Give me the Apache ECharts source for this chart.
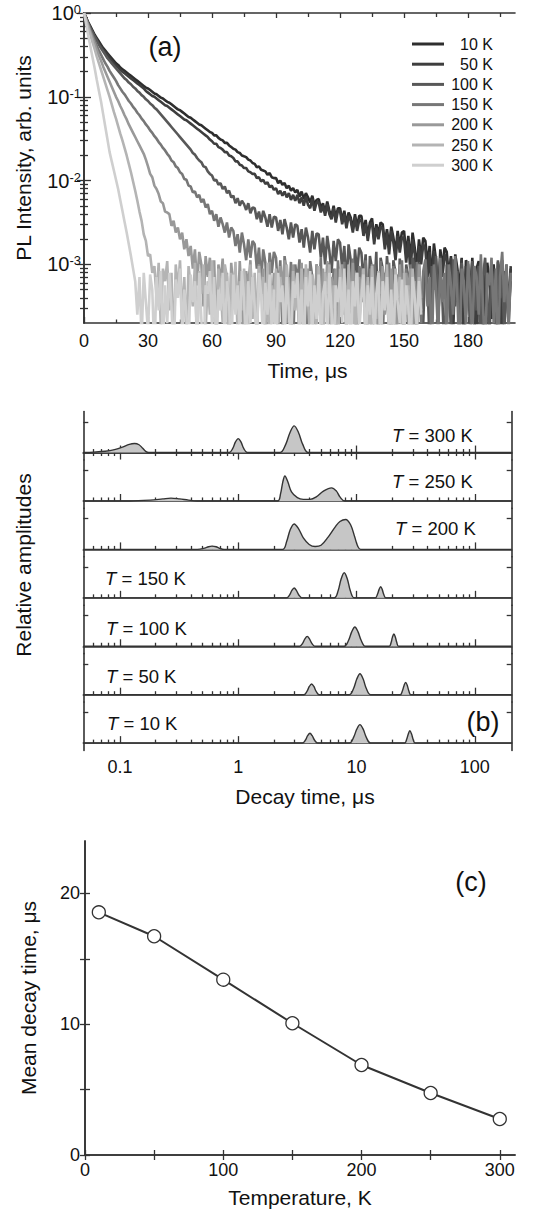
<!DOCTYPE html>
<html>
<head>
<meta charset="utf-8">
<script src="https://cdn.jsdelivr.net/npm/echarts@6/dist/echarts.min.js"></script>
<style>
  html, body { margin: 0; padding: 0; background: #fff; }
  #chart { width: 533px; height: 1220px; }
</style>
</head>
<body>
<div id="chart"></div>
<script>
// ---- (a) PL decay: log10 of intensity, one sample per 1 us from 0 us ----
const sampleStepUs = 1;
const temperaturesA = ["10 K", "50 K", "100 K", "150 K", "200 K", "250 K", "300 K"];

const logPL10K = [
  0, -0.06, -0.11, -0.16, -0.21, -0.26, -0.30, -0.34, -0.38, -0.42,
  -0.45, -0.48, -0.51, -0.54, -0.57, -0.60, -0.62, -0.65, -0.67, -0.69,
  -0.71, -0.73, -0.75, -0.77, -0.79, -0.81, -0.83, -0.85, -0.87, -0.89,
  -0.90, -0.92, -0.94, -0.96, -0.97, -0.99, -1.01, -1.02, -1.04, -1.06,
  -1.07, -1.09, -1.11, -1.13, -1.15, -1.16, -1.18, -1.20, -1.22, -1.24,
  -1.25, -1.27, -1.29, -1.31, -1.33, -1.34, -1.36, -1.38, -1.40, -1.42,
  -1.43, -1.46, -1.46, -1.49, -1.51, -1.52, -1.55, -1.55, -1.58, -1.60,
  -1.62, -1.63, -1.66, -1.67, -1.70, -1.71, -1.72, -1.75, -1.76, -1.79,
  -1.80, -1.84, -1.83, -1.87, -1.88, -1.89, -1.93, -1.91, -1.96, -1.97,
  -1.97, -2.03, -2.00, -2.05, -2.03, -2.09, -2.06, -2.12, -2.09, -2.14,
  -2.11, -2.19, -2.13, -2.22, -2.15, -2.20, -2.26, -2.18, -2.29, -2.23,
  -2.22, -2.33, -2.27, -2.38, -2.25, -2.36, -2.42, -2.30, -2.45, -2.33,
  -2.33, -2.48, -2.36, -2.52, -2.38, -2.44, -2.58, -2.40, -2.55, -2.42,
  -2.42, -2.60, -2.47, -2.66, -2.50, -2.45, -2.70, -2.52, -2.64, -2.50,
  -2.52, -2.75, -2.58, -2.80, -2.55, -2.68, -2.86, -2.60, -2.78, -2.62,
  -2.60, -2.88, -2.66, -2.95, -2.62, -2.80, -3.05, -2.70, -2.92, -2.68,
  -2.72, -3.00, -2.78, -3.20, -2.75, -2.95, -3.40, -2.82, -3.05, -2.80,
  -2.85, -3.15, -2.90, -3.60, -2.88, -3.05, -3.30, -2.92, -3.90, -2.95,
  -3.00, -3.35, -2.92, -3.80, -3.05, -2.96, -3.50, -3.10, -4.10, -2.98,
  -3.20, -3.65, -3.00, -3.40, -4.00, -3.05, -2.95, -3.70, -3.15, -3.45,
  -3.05
];
const logPL50K = [
  0, -0.06, -0.12, -0.18, -0.23, -0.28, -0.32, -0.36, -0.40, -0.44,
  -0.47, -0.50, -0.54, -0.57, -0.60, -0.63, -0.65, -0.68, -0.70, -0.72,
  -0.74, -0.76, -0.78, -0.80, -0.82, -0.84, -0.86, -0.88, -0.90, -0.93,
  -0.95, -0.97, -0.99, -1.00, -1.02, -1.04, -1.06, -1.08, -1.10, -1.11,
  -1.13, -1.15, -1.17, -1.19, -1.21, -1.23, -1.25, -1.27, -1.28, -1.30,
  -1.32, -1.34, -1.36, -1.38, -1.40, -1.42, -1.44, -1.46, -1.48, -1.51,
  -1.53, -1.56, -1.56, -1.60, -1.61, -1.63, -1.66, -1.66, -1.70, -1.71,
  -1.73, -1.77, -1.77, -1.81, -1.82, -1.85, -1.85, -1.89, -1.90, -1.92,
  -1.92, -1.97, -1.96, -2.01, -1.99, -2.04, -2.02, -2.08, -2.06, -2.11,
  -2.09, -2.16, -2.12, -2.18, -2.13, -2.20, -2.15, -2.23, -2.17, -2.24,
  -2.17, -2.27, -2.20, -2.30, -2.19, -2.29, -2.33, -2.22, -2.36, -2.26,
  -2.26, -2.38, -2.30, -2.42, -2.28, -2.40, -2.46, -2.33, -2.50, -2.36,
  -2.36, -2.52, -2.40, -2.57, -2.42, -2.48, -2.62, -2.44, -2.60, -2.47,
  -2.47, -2.66, -2.52, -2.72, -2.54, -2.50, -2.76, -2.56, -2.70, -2.55,
  -2.57, -2.82, -2.62, -2.88, -2.60, -2.74, -2.95, -2.66, -2.86, -2.68,
  -2.68, -2.98, -2.72, -3.10, -2.70, -2.88, -3.25, -2.78, -3.00, -2.76,
  -2.82, -3.15, -2.85, -3.45, -2.84, -3.02, -3.70, -2.90, -3.15, -2.88,
  -2.95, -3.30, -2.92, -3.85, -3.00, -3.10, -3.50, -2.94, -4.00, -3.02,
  -3.10, -3.55, -2.96, -3.30, -4.10, -3.00, -3.20, -3.75, -2.98, -3.40,
  -3.90, -3.05, -3.25, -3.60, -2.97, -3.15, -4.05, -3.08, -3.35, -3.70,
  -3.02
];
const logPL100K = [
  0, -0.06, -0.12, -0.18, -0.23, -0.28, -0.33, -0.38, -0.42, -0.46,
  -0.50, -0.54, -0.57, -0.60, -0.63, -0.66, -0.69, -0.72, -0.75, -0.78,
  -0.80, -0.83, -0.85, -0.88, -0.90, -0.93, -0.95, -0.98, -1.00, -1.03,
  -1.05, -1.08, -1.10, -1.13, -1.15, -1.18, -1.21, -1.24, -1.27, -1.30,
  -1.33, -1.36, -1.39, -1.42, -1.45, -1.48, -1.51, -1.54, -1.57, -1.60,
  -1.63, -1.67, -1.69, -1.73, -1.76, -1.78, -1.83, -1.84, -1.89, -1.92,
  -1.94, -2.00, -1.99, -2.05, -2.03, -2.10, -2.07, -2.15, -2.12, -2.20,
  -2.18, -2.27, -2.21, -2.30, -2.24, -2.28, -2.35, -2.27, -2.39, -2.32,
  -2.33, -2.46, -2.37, -2.50, -2.36, -2.44, -2.55, -2.40, -2.56, -2.43,
  -2.44, -2.60, -2.47, -2.64, -2.46, -2.56, -2.70, -2.50, -2.68, -2.52,
  -2.54, -2.74, -2.58, -2.80, -2.56, -2.68, -2.86, -2.60, -2.82, -2.63,
  -2.64, -2.92, -2.68, -3.00, -2.66, -2.84, -3.10, -2.72, -2.96, -2.70,
  -2.74, -3.05, -2.78, -3.25, -2.76, -2.95, -3.50, -2.82, -3.10, -2.80,
  -2.86, -3.20, -2.88, -3.70, -2.90, -3.05, -3.35, -2.85, -4.00, -2.92,
  -3.05, -3.45, -2.90, -3.25, -3.90, -2.95, -3.10, -3.60, -2.93, -3.30,
  -4.10, -3.00, -3.15, -3.55, -2.92, -3.05, -3.85, -2.98, -3.40, -3.70,
  -2.95, -3.20, -4.00, -3.02, -3.30, -2.90, -3.65, -3.10, -3.45, -4.15,
  -3.00, -3.25, -3.80, -2.94, -3.50, -3.08, -4.05, -2.98, -3.35, -3.60,
  -3.05, -3.90, -2.96, -3.20, -3.55, -3.02, -4.10, -3.15, -2.92, -3.45,
  -3.75, -3.05, -3.30, -4.00, -2.95, -3.40, -3.10, -3.85, -3.00, -3.60,
  -3.20
];
const logPL150K = [
  0, -0.07, -0.14, -0.21, -0.27, -0.33, -0.39, -0.45, -0.50, -0.55,
  -0.60, -0.64, -0.69, -0.73, -0.77, -0.81, -0.86, -0.90, -0.94, -0.97,
  -1.01, -1.05, -1.08, -1.12, -1.15, -1.19, -1.22, -1.26, -1.29, -1.33,
  -1.36, -1.40, -1.43, -1.47, -1.50, -1.54, -1.57, -1.61, -1.64, -1.68,
  -1.71, -1.76, -1.78, -1.83, -1.85, -1.90, -1.92, -1.98, -1.99, -2.06,
  -2.07, -2.14, -2.13, -2.20, -2.17, -2.26, -2.22, -2.32, -2.28, -2.40,
  -2.36, -2.48, -2.40, -2.55, -2.44, -2.52, -2.62, -2.50, -2.68, -2.56,
  -2.60, -2.78, -2.64, -2.86, -2.62, -2.76, -2.95, -2.70, -2.92, -2.72,
  -2.76, -3.05, -2.80, -3.20, -2.82, -2.98, -3.45, -2.86, -3.10, -2.85,
  -2.92, -3.35, -2.95, -3.80, -2.90, -3.10, -3.55, -2.97, -4.05, -3.00,
  -3.20, -2.94, -3.60, -3.05, -3.30, -4.10, -2.96, -3.15, -3.70, -3.00,
  -3.40, -2.92, -3.95, -3.10, -3.25, -2.98, -3.65, -3.05, -4.15, -2.95,
  -3.30, -3.50, -2.97, -3.85, -3.08, -3.20, -2.93, -3.60, -4.00, -3.02,
  -3.15, -3.45, -2.95, -3.75, -3.05, -4.10, -3.00, -3.30, -3.55, -2.96,
  -3.90, -3.10, -3.25, -2.98, -3.65, -3.02, -4.20, -3.12, -3.40, -2.95,
  -3.55, -3.05, -3.80, -3.00, -3.35, -4.05, -2.97, -3.20, -3.70, -3.08,
  -2.94, -3.50, -3.15, -4.10, -3.00, -3.30, -3.85, -2.92, -3.45, -3.10,
  -3.95, -3.00, -3.25, -3.60, -2.90, -3.40, -4.15, -3.05, -3.20, -3.75,
  -2.96, -3.35, -3.90, -3.02, -3.15, -3.60, -2.88, -3.50, -4.05, -3.10,
  -3.25, -2.92, -3.70, -3.05, -4.20, -3.15, -2.85, -3.45, -3.00, -3.80,
  -3.10
];
const logPL200K = [
  0, -0.08, -0.15, -0.23, -0.30, -0.37, -0.44, -0.51, -0.57, -0.64,
  -0.70, -0.76, -0.82, -0.88, -0.94, -1.00, -1.05, -1.11, -1.16, -1.22,
  -1.27, -1.33, -1.38, -1.43, -1.48, -1.53, -1.58, -1.63, -1.68, -1.75,
  -1.83, -1.92, -1.96, -2.06, -2.10, -2.16, -2.25, -2.27, -2.37, -2.38,
  -2.40, -2.54, -2.48, -2.62, -2.56, -2.70, -2.62, -2.82, -2.70, -2.90,
  -2.78, -3.05, -2.82, -3.25, -2.85, -3.00, -3.50, -2.90, -3.15, -2.92,
  -3.40, -2.95, -3.80, -3.00, -3.20, -2.93, -3.60, -3.10, -4.10, -2.98,
  -3.30, -3.05, -3.70, -2.96, -3.45, -4.00, -3.08, -3.25, -2.95, -3.55,
  -3.15, -3.90, -3.00, -3.35, -3.05, -4.15, -3.20, -2.97, -3.60, -3.10,
  -3.45, -3.85, -3.02, -3.25, -2.95, -3.70, -3.15, -4.05, -3.00, -3.40,
  -3.10, -3.55, -2.98, -3.95, -3.20, -3.05, -3.65, -3.30, -4.20, -3.00,
  -3.25, -3.75, -3.05, -3.45, -2.96, -3.90, -3.15, -3.35, -3.05, -4.10,
  -3.20, -3.00, -3.60, -3.40, -3.10, -3.85, -2.98, -3.50, -4.00, -3.15,
  -3.30, -3.05, -3.95, -3.20, -3.55, -3.00, -3.70, -4.15, -3.10, -3.35,
  -3.02, -3.60, -3.25, -3.90, -3.05, -3.45, -3.15, -4.05, -3.00, -3.50,
  -3.80, -3.10, -3.30, -3.05, -4.10, -3.20, -3.65, -3.00, -3.40
];
const logPL250K = [
  0, -0.09, -0.18, -0.26, -0.35, -0.43, -0.52, -0.60, -0.68, -0.76,
  -0.84, -0.92, -1.00, -1.09, -1.18, -1.26, -1.35, -1.44, -1.52, -1.61,
  -1.70, -1.80, -1.90, -2.01, -2.12, -2.24, -2.37, -2.48, -2.64, -2.72,
  -2.90, -2.88, -3.10, -3.02, -3.40, -2.98, -3.75, -3.05, -3.20, -2.96,
  -3.55, -3.10, -4.05, -3.00, -3.30, -2.95, -3.65, -3.15, -3.90, -3.02,
  -3.25, -3.50, -2.98, -4.10, -3.08, -3.35, -3.00, -3.80, -3.20, -3.60,
  -2.95, -3.45, -4.00, -3.05, -3.25, -3.70, -3.00, -3.15, -4.15, -3.10,
  -3.40, -2.97, -3.85, -3.20, -3.55, -3.05, -3.30, -4.05, -3.00, -3.65,
  -3.10, -3.95, -3.02, -3.35, -3.15, -3.75, -2.98, -4.20, -3.25, -3.50,
  -3.05, -3.70, -3.15, -3.40, -4.00, -3.00, -3.30, -3.85, -3.08, -3.55,
  -3.20, -4.10, -3.05, -3.60, -3.00, -3.45, -3.90, -3.12, -3.30, -3.75,
  -3.02, -3.50, -4.05, -3.10, -3.35, -3.00, -3.80, -3.25, -3.60, -4.15,
  -3.05, -3.40, -3.15, -3.90, -3.00, -3.55, -3.20, -4.00, -3.10, -3.70,
  -3.30, -3.05, -3.85, -3.15, -4.10, -3.02, -3.45, -3.65, -3.08, -3.95,
  -3.20, -3.50, -3.00, -3.75, -3.35, -4.20, -3.05, -3.40, -3.15, -3.90,
  -3.10, -3.60, -3.25, -4.00, -3.05, -3.45, -3.80, -3.15, -3.55
];
const logPL300K = [
  0, -0.13, -0.27, -0.40, -0.53, -0.66, -0.80, -0.93, -1.06, -1.21,
  -1.36, -1.51, -1.66, -1.77, -1.88, -1.99, -2.10, -2.23, -2.36, -2.49,
  -2.62, -2.76, -2.90, -3.05, -3.20, -3.60, -3.15, -3.90, -3.10, -3.45,
  -3.80, -3.12, -3.30, -4.10, -3.15, -3.55, -3.08, -3.95, -3.25, -3.70,
  -3.10, -3.50, -4.20, -3.18, -3.40, -3.05, -3.85, -3.30, -3.60, -4.00,
  -3.12, -3.45, -3.20, -3.90, -3.10, -3.65, -4.15, -3.25, -3.35, -3.08,
  -3.75, -3.15, -4.05, -3.30, -3.55, -3.10, -3.95, -3.20, -3.45, -4.20,
  -3.12, -3.60, -3.25, -3.85, -3.08, -3.40, -4.10, -3.20, -3.70, -3.15,
  -3.50, -3.95, -3.10, -3.35, -4.00, -3.22, -3.60, -3.12, -3.80, -3.30,
  -4.15, -3.10, -3.45, -3.25, -3.90, -3.15, -3.55, -4.05, -3.20, -3.40,
  -3.10, -3.75, -3.30, -4.20, -3.15, -3.50, -3.08, -3.95, -3.25, -3.65,
  -3.12, -4.00, -3.35, -3.20, -3.85, -3.10, -3.55, -4.10, -3.25, -3.45,
  -3.15, -3.70, -3.05, -3.90, -3.30, -4.15, -3.20, -3.50, -3.10, -3.80,
  -3.40, -3.12, -4.05, -3.25, -3.60, -3.15, -3.95, -3.35, -3.10, -4.20,
  -3.20, -3.55, -3.15, -3.85, -3.30, -4.00, -3.12, -3.45, -3.70, -3.18,
  -3.90, -3.25, -3.50, -4.10, -3.15, -3.40, -3.75, -3.20, -3.60
];
const logPLSeries = [logPL10K, logPL50K, logPL100K, logPL150K, logPL200K, logPL250K, logPL300K];

const timeTicksA = [0, 30, 60, 90, 120, 150, 180];
const timeMinorTicksA = [15, 45, 75, 105, 135, 165, 195];
const intensityTicksA = [1e-3, 1e-2, 1e-1, 1];

// ---- (b) decay-time distributions: [decay time us, relative amplitude] ----
const temperaturesB = [300, 250, 200, 150, 100, 50, 10];
const amp300K = [
  [0.049, 0], [0.06, 0.01], [0.075, 0.03], [0.09, 0.07], [0.105, 0.13], [0.12, 0.2], [0.133, 0.22],
  [0.145, 0.19], [0.155, 0.11], [0.165, 0.03], [0.175, 0],
  [0.838, 0], [0.899, 0.10], [0.948, 0.26], [1.0, 0.34], [1.054, 0.26], [1.112, 0.10], [1.194, 0],
  [2.25, 0], [2.52, 0.2], [2.74, 0.49], [2.97, 0.65], [3.23, 0.49], [3.51, 0.2], [3.92, 0],
  [205, 0]
];
const amp250K = [
  [0.049, 0], [0.12, 0], [0.18, 0.02], [0.23, 0.05], [0.27, 0.07], [0.32, 0.05], [0.38, 0.02], [0.45, 0],
  [2.15, 0], [2.28, 0.18], [2.38, 0.46], [2.48, 0.61], [2.63, 0.46], [2.82, 0.22], [3.16, 0.08],
  [3.55, 0.04], [4.04, 0.04], [4.57, 0.1], [5.25, 0.24], [6.15, 0.32], [6.76, 0.24], [7.24, 0.1], [7.94, 0],
  [205, 0]
];
const amp200K = [
  [0.049, 0], [0.45, 0], [0.52, 0.03], [0.56, 0.065], [0.6, 0.08], [0.65, 0.065], [0.69, 0.03], [0.76, 0],
  [2.37, 0], [2.57, 0.2], [2.75, 0.48], [2.97, 0.62], [3.24, 0.5], [3.55, 0.28], [3.98, 0.12], [4.47, 0.07],
  [5.01, 0.1], [5.75, 0.3], [6.61, 0.55], [7.24, 0.68], [8.09, 0.73], [8.91, 0.6], [9.66, 0.3], [10.23, 0.08], [10.84, 0],
  [205, 0]
];
const amp150K = [
  [0.049, 0],
  [2.56, 0], [2.72, 0.07], [2.84, 0.18], [2.97, 0.24], [3.10, 0.18], [3.25, 0.07], [3.45, 0],
  [6.47, 0], [7.0, 0.18], [7.41, 0.46], [7.87, 0.61], [8.36, 0.46], [8.85, 0.18], [9.57, 0],
  [14.4, 0], [15.0, 0.08], [15.5, 0.2], [16.0, 0.27], [16.5, 0.2], [17.0, 0.08], [17.7, 0],
  [205, 0]
];
const amp100K = [
  [0.049, 0],
  [3.30, 0], [3.50, 0.07], [3.66, 0.18], [3.83, 0.24], [4.0, 0.18], [4.19, 0.07], [4.45, 0],
  [7.87, 0], [8.55, 0.14], [9.10, 0.35], [9.68, 0.47], [10.3, 0.35], [10.96, 0.14], [11.9, 0],
  [18.9, 0], [19.6, 0.09], [20.1, 0.22], [20.7, 0.30], [21.3, 0.22], [21.9, 0.09], [22.7, 0],
  [205, 0]
];
const amp50K = [
  [0.049, 0],
  [3.59, 0], [3.81, 0.08], [3.99, 0.2], [4.17, 0.26], [4.36, 0.2], [4.56, 0.08], [4.84, 0],
  [8.69, 0], [9.44, 0.15], [10.05, 0.38], [10.69, 0.51], [11.38, 0.38], [12.1, 0.15], [13.15, 0],
  [23.4, 0], [24.4, 0.09], [25.2, 0.22], [26.0, 0.30], [26.9, 0.22], [27.7, 0.09], [28.8, 0],
  [205, 0]
];
const amp10K = [
  [0.049, 0],
  [3.48, 0], [3.69, 0.07], [3.86, 0.18], [4.04, 0.24], [4.22, 0.18], [4.42, 0.07], [4.69, 0],
  [8.69, 0], [9.44, 0.14], [10.05, 0.34], [10.69, 0.45], [11.38, 0.34], [12.1, 0.14], [13.15, 0],
  [25.5, 0], [26.5, 0.09], [27.4, 0.22], [28.2, 0.30], [29.2, 0.22], [30.1, 0.09], [31.3, 0],
  [205, 0]
];
const ampSeriesB = [amp300K, amp250K, amp200K, amp150K, amp100K, amp50K, amp10K];
const tauTicksB = [0.1, 1, 10, 100];

// ---- (c) mean decay time vs temperature ----
const temperaturesC = [10, 50, 100, 150, 200, 250, 300];
const meanDecayUs = [18.55, 16.72, 13.4, 10.07, 6.88, 4.74, 2.75];
const tempTicksC = [0, 50, 100, 150, 200, 250, 300];
const tempLabelsC = [0, 100, 200, 300];
const meanTicksC = [0, 5, 10, 15, 20];
const meanLabelsC = [0, 10, 20];

// ---- styling ----
const FONT = "'Liberation Sans', Arial, Helvetica, sans-serif";
const INK = '#333';
const TXT = '#111';
const lineColors = ['#2e2e2e', '#3e3e3e', '#585858', '#777777', '#999999', '#b4b4b4', '#cfcfcf'];

function logMinorTicks(lo, hi) {
  const out = [];
  [1e-4, 1e-3, 1e-2, 1e-1, 1, 10, 100].forEach((d) => {
    for (let k = 2; k <= 9; k++) {
      const v = +(d * k).toPrecision(3);
      if (v > lo && v < hi) out.push(v);
    }
  });
  return out;
}

const axisLine = (show) => ({ show, lineStyle: { color: INK, width: 1.6 } });
const ticks = (values, length) => ({
  show: true, inside: true, length, customValues: values,
  lineStyle: { color: INK, width: 1.3 }
});
const noLabel = { show: false };
const nameStyle = (extra) => Object.assign({ fontSize: 21, color: TXT, fontFamily: FONT }, extra || {});

const grids = [];
const xAxes = [];
const yAxes = [];
function addGrid(rect, x, y) {
  const gi = grids.length;
  grids.push(Object.assign({ containLabel: false, outerBoundsMode: 'none' }, rect));
  xAxes.push(Object.assign({ gridIndex: gi, splitLine: { show: false } }, x));
  yAxes.push(Object.assign({ gridIndex: gi, splitLine: { show: false } }, y));
  return gi;
}

const series = [];
const graphics = [];

// ---------------- panel (a) ----------------
const rectA = { left: 84, top: 13, width: 431, height: 310 };
const intMinorA = logMinorTicks(2.5e-4, 1);
const xA = { type: 'value', min: 0, max: 202 };
const yA = { type: 'log', logBase: 10, min: 2e-4, max: 1 };
const gA = addGrid(rectA,
  Object.assign({}, xA, {
    position: 'bottom', axisLine: axisLine(true), axisTick: ticks(timeTicksA, 6),
    axisLabel: { customValues: timeTicksA, fontSize: 18, color: TXT, margin: 9, fontFamily: FONT },
    name: 'Time, μs', nameLocation: 'middle', nameGap: 37,
    nameTextStyle: nameStyle({ padding: [0, 0, 0, 16] })
  }),
  Object.assign({}, yA, {
    position: 'left', axisLine: axisLine(true), axisTick: ticks(intensityTicksA, 7),
    axisLabel: {
      customValues: intensityTicksA, margin: 3, fontSize: 20, color: TXT, fontFamily: FONT,
      formatter: (v) => '{b|10}{s|' + Math.round(Math.log10(v)) + '}',
      rich: {
        b: { fontSize: 20, color: TXT, fontFamily: FONT },
        s: { fontSize: 13, color: TXT, fontFamily: FONT, verticalAlign: 'top' }
      }
    },
    name: 'PL Intensity, arb. units', nameLocation: 'middle', nameGap: 50,
    nameTextStyle: nameStyle({ padding: [0, 0, 0, 20] })
  })
);
addGrid(rectA,
  Object.assign({}, xA, { position: 'bottom', axisLine: axisLine(false), axisTick: ticks(timeMinorTicksA, 3.5), axisLabel: noLabel }),
  Object.assign({}, yA, { position: 'left', axisLine: axisLine(false), axisTick: ticks(intMinorA, 4), axisLabel: noLabel })
);
addGrid(rectA,
  Object.assign({}, xA, { position: 'top', axisLine: axisLine(true), axisTick: ticks(timeTicksA, 5), axisLabel: noLabel }),
  Object.assign({}, yA, { position: 'right', axisLine: axisLine(true), axisTick: ticks(intensityTicksA, 7), axisLabel: noLabel })
);
addGrid(rectA,
  Object.assign({}, xA, { position: 'top', axisLine: axisLine(false), axisTick: ticks(timeMinorTicksA, 4), axisLabel: noLabel }),
  Object.assign({}, yA, { position: 'right', axisLine: axisLine(false), axisTick: ticks(intMinorA, 4), axisLabel: noLabel })
);

logPLSeries.forEach((logs, k) => {
  series.push({
    name: temperaturesA[k], type: 'line', xAxisIndex: gA, yAxisIndex: gA,
    data: logs.map((lg, i) => [i * sampleStepUs, Math.pow(10, lg)]),
    symbol: 'none', clip: true, z: 2 + k,
    lineStyle: { color: lineColors[k], width: 2.6, join: 'bevel' },
    itemStyle: { color: lineColors[k] }
  });
});

graphics.push({
  type: 'text', x: 165, y: 47, z: 100,
  style: { text: '(a)', fontSize: 27, fontFamily: FONT, fill: TXT, align: 'center', verticalAlign: 'middle' }
});

// ---------------- panel (b) ----------------
const boxTopB = 411.5;
const boxHB = 48.43;
const tauMinorB = logMinorTicks(0.055, 195);
const xB = { type: 'log', logBase: 10, min: 0.049, max: 205 };
const yB = { type: 'value', min: -0.18, max: 1 };
const labelPosB = [[392, 435], [392, 481], [395, 528.5], [105, 578.5], [106, 628], [106, 676], [107, 723.5]];

ampSeriesB.forEach((pts, i) => {
  const rect = { left: 83.3, top: boxTopB + i * boxHB, width: 428.4, height: boxHB };
  const last = i === ampSeriesB.length - 1;
  const g = addGrid(rect,
    Object.assign({}, xB, {
      position: 'bottom', axisLine: axisLine(true), axisTick: ticks(tauTicksB, 7),
      axisLabel: last ? { customValues: tauTicksB, fontSize: 18, color: TXT, margin: 7, fontFamily: FONT, formatter: (v) => String(v) } : noLabel,
      name: last ? 'Decay time, μs' : '', nameLocation: 'middle', nameGap: 35,
      nameTextStyle: nameStyle({ padding: [0, 0, 0, 15] })
    }),
    Object.assign({}, yB, { position: 'left', axisLine: axisLine(true), axisTick: ticks([0.75], 5), axisLabel: noLabel })
  );
  addGrid(rect,
    Object.assign({}, xB, { position: 'bottom', axisLine: axisLine(false), axisTick: ticks(tauMinorB, 3.5), axisLabel: noLabel }),
    Object.assign({}, yB, { position: 'right', axisLine: axisLine(true), axisTick: ticks([0.75], 5), axisLabel: noLabel })
  );
  if (i === 0) {
    addGrid(rect,
      Object.assign({}, xB, { position: 'top', axisLine: axisLine(true), axisTick: ticks(tauTicksB, 7), axisLabel: noLabel }),
      Object.assign({}, yB, { show: false })
    );
    addGrid(rect,
      Object.assign({}, xB, { position: 'top', axisLine: axisLine(false), axisTick: ticks(tauMinorB, 3.5), axisLabel: noLabel }),
      Object.assign({}, yB, { show: false })
    );
  }
  series.push({
    name: 'T = ' + temperaturesB[i] + ' K', type: 'line', xAxisIndex: g, yAxisIndex: g,
    data: pts, symbol: 'none', smooth: 0.35, z: 3,
    lineStyle: { color: INK, width: 1.4 },
    areaStyle: { color: '#c6c6c6', opacity: 1, origin: 0 }
  });
  graphics.push({
    type: 'text', x: labelPosB[i][0], y: labelPosB[i][1], z: 100,
    style: {
      text: '{i|T} = ' + temperaturesB[i] + ' K', fontSize: 18.5, fontFamily: FONT, fill: TXT,
      align: 'left', verticalAlign: 'middle',
      rich: { i: { fontStyle: 'italic', fontSize: 18.5, fontFamily: FONT, fill: TXT } }
    }
  });
});

graphics.push({
  type: 'text', x: 483, y: 722, z: 100,
  style: { text: '(b)', fontSize: 27, fontFamily: FONT, fill: TXT, align: 'center', verticalAlign: 'middle' }
});
graphics.push({
  type: 'text', x: 23, y: 565, rotation: Math.PI / 2, z: 100,
  style: { text: 'Relative amplitudes', fontSize: 21, fontFamily: FONT, fill: TXT, align: 'center', verticalAlign: 'middle' }
});

// ---------------- panel (c) ----------------
const rectC = { left: 85, top: 841, width: 430, height: 314 };
const xC = { type: 'value', min: 0, max: 311 };
const yC = { type: 'value', min: 0, max: 24 };
const gC = addGrid(rectC,
  Object.assign({}, xC, {
    position: 'bottom', axisLine: axisLine(true), axisTick: ticks(tempTicksC, 5),
    axisLabel: { customValues: tempLabelsC, fontSize: 18, color: TXT, margin: 6, fontFamily: FONT },
    name: 'Temperature, K', nameLocation: 'middle', nameGap: 32, nameTextStyle: nameStyle()
  }),
  Object.assign({}, yC, {
    position: 'left', axisLine: axisLine(true), axisTick: ticks(meanTicksC, 5),
    axisLabel: { customValues: meanLabelsC, fontSize: 18, color: TXT, margin: 5, fontFamily: FONT },
    name: 'Mean decay time, μs', nameLocation: 'middle', nameGap: 46, nameTextStyle: nameStyle()
  })
);
addGrid(rectC,
  Object.assign({}, xC, { position: 'top', axisLine: axisLine(true), axisTick: ticks(tempTicksC, 5), axisLabel: noLabel }),
  Object.assign({}, yC, { position: 'right', axisLine: axisLine(true), axisTick: ticks(meanTicksC, 5), axisLabel: noLabel })
);
series.push({
  name: 'Mean decay time', type: 'line', xAxisIndex: gC, yAxisIndex: gC,
  data: temperaturesC.map((t, i) => [t, meanDecayUs[i]]),
  symbol: 'circle', symbolSize: 13, z: 5,
  lineStyle: { color: INK, width: 2 },
  itemStyle: { color: '#fff', borderColor: INK, borderWidth: 1.3 }
});
graphics.push({
  type: 'text', x: 471, y: 882, z: 100,
  style: { text: '(c)', fontSize: 27, fontFamily: FONT, fill: TXT, align: 'center', verticalAlign: 'middle' }
});

const chart = echarts.init(document.getElementById('chart'), null, { renderer: 'svg' });
chart.setOption({
  animation: false,
  backgroundColor: '#fff',
  textStyle: { fontFamily: FONT, color: TXT },
  tooltip: { show: false },
  grid: grids,
  xAxis: xAxes,
  yAxis: yAxes,
  legend: {
    data: temperaturesA,
    orient: 'vertical', left: 412, top: 36, padding: 0,
    itemWidth: 32, itemHeight: 14, itemGap: 4.2,
    icon: 'path://M0,5.5 L32,5.5 L32,8.5 L0,8.5 Z',
    selectedMode: false,
    textStyle: {
      fontSize: 16, color: TXT, fontFamily: FONT,
      rich: { r: { width: 44, align: 'right', fontSize: 16, lineHeight: 14, color: TXT, fontFamily: FONT } }
    },
    formatter: (name) => '{r|' + name + '}'
  },
  series,
  graphic: graphics
});
</script>
</body>
</html>
